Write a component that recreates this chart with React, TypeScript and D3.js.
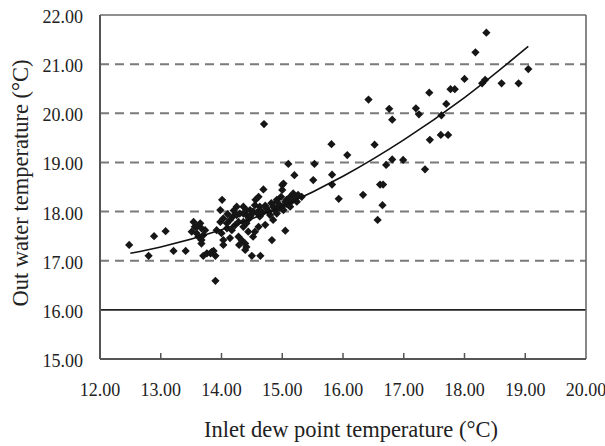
import React from "react";
import * as d3 from "d3";

// Scatter points: inlet dew point temperature (°C) vs out water temperature (°C)
const dewPoint: number[] = [
  18.36, 18.18, 18.0, 18.34, 18.29, 18.61, 18.89, 19.05, 16.42, 17.42,
  17.77, 17.84, 16.76, 17.2, 17.25, 16.81, 17.7, 17.62, 17.61, 17.73,
  17.43, 16.52, 16.81, 16.99, 16.71, 17.35, 16.07, 16.33, 16.61, 16.66,
  16.65, 16.57, 15.81, 15.53, 15.51, 15.82, 15.82, 15.93, 15.1, 15.2,
  15.02, 15.0, 14.91, 15.32, 15.05, 14.83, 14.7, 12.48, 12.8, 12.89,
  13.08, 13.21, 13.41, 13.9, 13.7, 13.9, 13.84, 14.5, 14.64, 14.01,
  13.98, 14.69, 15.0, 14.29, 14.39, 14.52, 14.55, 14.61, 14.56, 14.61,
  14.63, 14.88, 13.54, 13.56, 13.51, 13.59, 13.65, 13.67, 13.62, 13.67,
  13.67, 13.73, 13.98, 14.03, 14.09, 14.14, 14.19, 14.25, 14.3, 14.36,
  14.41, 13.92, 14.0, 14.09, 14.17, 14.22, 14.28, 14.36, 14.41, 14.03,
  14.14, 14.28, 14.33, 14.39, 14.41, 14.03, 14.36, 14.25, 14.47, 14.55,
  14.91, 15.05, 15.13, 15.18, 14.41, 14.52, 14.63, 14.74, 14.85, 14.96,
  15.07, 15.26, 14.47, 14.63, 14.8, 14.91, 15.02, 15.13, 15.24, 14.36,
  14.44, 14.72, 14.85, 13.76, 13.82, 13.87, 14.45, 14.5, 14.58, 14.68,
  14.78, 14.88, 14.95, 15.0, 15.08, 15.15, 15.2, 14.72, 14.82, 14.98,
  14.1, 14.2, 13.6, 13.7,
];
const outWater: number[] = [
  21.64, 21.24, 20.7, 20.68, 20.61, 20.61, 20.61, 20.9, 20.28, 20.42,
  20.49, 20.49, 20.09, 20.1, 19.98, 19.87, 20.19, 19.96, 19.56, 19.56,
  19.46, 19.36, 19.06, 19.05, 18.95, 18.86, 19.15, 18.34, 18.55, 18.55,
  18.13, 17.83, 19.37, 18.97, 18.64, 18.75, 18.55, 18.26, 18.97, 18.74,
  18.57, 18.44, 18.24, 18.3, 17.61, 17.42, 19.78, 17.32, 17.1, 17.5,
  17.6, 17.2, 17.2, 16.59, 17.1, 17.1, 17.18, 17.1, 17.1, 18.24,
  18.03, 18.45, 18.54, 17.32, 17.22, 17.49, 17.59, 17.69, 18.24, 18.3,
  18.1, 18.07, 17.79, 17.69, 17.59, 17.56, 17.76, 17.66, 17.49, 17.42,
  17.35, 17.62, 17.79, 17.86, 17.76, 17.83, 17.9, 17.93, 17.96, 17.96,
  17.93, 17.62, 17.56, 17.66, 17.62, 17.72, 17.79, 17.79, 17.76, 17.42,
  17.46, 17.49, 17.42, 17.35, 17.28, 17.32, 18.1, 18.1, 18.03, 18.13,
  18.2, 18.2, 18.3, 18.37, 18.03, 18.0, 18.03, 18.07, 18.1, 18.13,
  18.24, 18.34, 17.9, 17.9, 17.93, 17.96, 18.03, 18.1, 18.2, 17.69,
  17.59, 17.73, 17.83, 17.15, 17.15, 17.2, 17.85, 17.95, 17.98, 17.98,
  18.0, 18.03, 18.07, 18.1, 18.15, 18.2, 18.27, 18.12, 18.17, 18.3,
  17.95, 18.02, 17.7, 17.52,
];

// Trend line
const trendX: number[] = [12.5, 13.0, 14.0, 15.0, 16.0, 17.0, 18.0, 19.05];
const trendY: number[] = [17.15, 17.28, 17.63, 18.11, 18.72, 19.46, 20.32, 21.36];

const xTicks: number[] = [12, 13, 14, 15, 16, 17, 18, 19, 20];
const yTicks: number[] = [15, 16, 17, 18, 19, 20, 21, 22];
const dashedY: number[] = [17, 18, 19, 20, 21];
const solidY: number[] = [16];

const W = 605;
const H = 446;
const left = 100;
const right = 586;
const top = 15;
const bottom = 359;
const font = "'Liberation Serif', 'Times New Roman', Times, serif";

export default function App() {
  const x = d3.scaleLinear().domain([12, 20]).range([left, right]);
  const y = d3.scaleLinear().domain([15, 22]).range([bottom, top]);
  const diamond = d3.symbol(d3.symbolSquare, 34)() as string;
  const trend = d3
    .line<number>()
    .x((_, i) => x(trendX[i]))
    .y((d) => y(d))
    .curve(d3.curveMonotoneX)(trendY) as string;

  return (
    <svg
      width={W}
      height={H}
      style={{ position: "absolute", left: 0, top: 0, background: "#fff" }}
    >
      <rect x={0} y={0} width={W} height={H} fill="#fff" />
      {dashedY.map((v) => (
        <line
          key={"g" + v}
          x1={left}
          x2={right}
          y1={y(v)}
          y2={y(v)}
          stroke="#7a7a7a"
          strokeWidth={2}
          strokeDasharray="9 6"
        />
      ))}
      {solidY.map((v) => (
        <line
          key={"s" + v}
          x1={left}
          x2={right}
          y1={y(v)}
          y2={y(v)}
          stroke="#222"
          strokeWidth={1.6}
        />
      ))}
      {/* frame */}
      <line x1={left} x2={right} y1={top} y2={top} stroke="#6a6a6a" strokeWidth={1.6} />
      <line x1={right} x2={right} y1={top} y2={bottom} stroke="#6a6a6a" strokeWidth={1.6} />
      <line x1={left} x2={left} y1={top} y2={bottom} stroke="#555" strokeWidth={2} />
      <line x1={left} x2={right} y1={bottom} y2={bottom} stroke="#555" strokeWidth={2} />
      {xTicks.slice(1, -1).map((v) => (
        <line
          key={"t" + v}
          x1={x(v)}
          x2={x(v)}
          y1={bottom}
          y2={bottom - 6}
          stroke="#555"
          strokeWidth={1.5}
        />
      ))}
      {dewPoint.map((d, i) => (
        <path
          key={"p" + i}
          d={diamond}
          transform={`translate(${x(d)},${y(outWater[i])}) rotate(45)`}
          fill="#161616"
        />
      ))}
      <path d={trend} fill="none" stroke="#111" strokeWidth={1.6} />
      {yTicks.map((v) => (
        <text
          key={"yl" + v}
          x={83}
          y={y(v) + 8}
          textAnchor="end"
          fontSize={18}
          fontFamily={font}
          fill="#222"
        >
          {v.toFixed(2)}
        </text>
      ))}
      {xTicks.map((v) => (
        <text
          key={"xl" + v}
          x={x(v)}
          y={396}
          textAnchor="middle"
          fontSize={18}
          fontFamily={font}
          fill="#222"
        >
          {v.toFixed(2)}
        </text>
      ))}
      <text
        x={351}
        y={437}
        textAnchor="middle"
        fontSize={22.5}
        fontFamily={font}
        fill="#222"
      >
        Inlet dew point temperature (°C)
      </text>
      <text
        transform={`translate(28,183) rotate(-90)`}
        textAnchor="middle"
        fontSize={22.5}
        fontFamily={font}
        fill="#222"
      >
        Out water temperature (°C)
      </text>
    </svg>
  );
}
